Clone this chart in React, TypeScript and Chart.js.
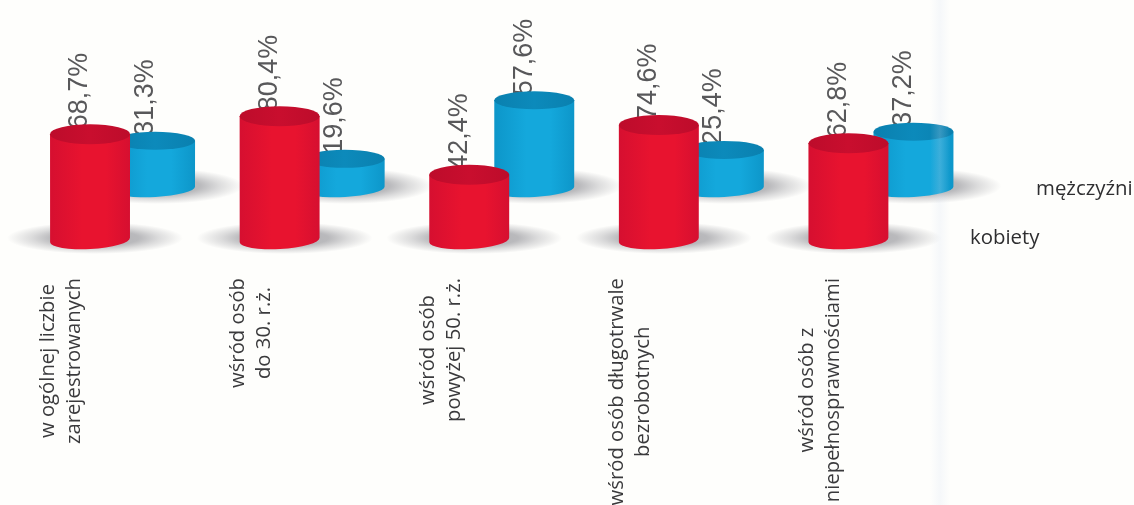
import React, { useEffect, useRef } from "react";
import { Chart, registerables } from "chart.js";

Chart.register(...registerables);

const categories: string[][] = [
  ["w ogólnej liczbie", "zarejestrowanych"],
  ["wśród osób", "do 30. r.ż."],
  ["wśród osób", "powyżej 50. r.ż."],
  ["wśród osób długotrwale", "bezrobotnych"],
  ["wśród osób z", "niepełnosprawnościami"],
];
const kobiety = [68.7, 80.4, 42.4, 74.6, 62.8];
const mezczyzni = [31.3, 19.6, 57.6, 25.4, 37.2];

const PAPER = "#fefefc";
const VALUE_FONT = '27px "Liberation Sans"';
const TEXT_FONT = '20.3px "Open Sans"';
const KEY_FONT = '20.4px "Open Sans"';

type Palette = { edge: string; mid: string; lid: string; lidDark: string };
const RED: Palette = { edge: "#d60f30", mid: "#e8132f", lid: "#c90e2e", lidDark: "#bd0c2b" };
const BLUE: Palette = { edge: "#0d96c9", mid: "#14a8dc", lid: "#0c8abb", lidDark: "#0a80af" };

// Soft floor shadow around the foot of a cylinder.
function drawShadow(ctx: CanvasRenderingContext2D, x: number, y: number, rx: number, ry: number) {
  ctx.save();
  ctx.translate(x, y);
  ctx.scale(1, ry / rx);
  const g = ctx.createRadialGradient(0, 0, 0, 0, 0, rx);
  g.addColorStop(0, "rgba(140,140,146,0.7)");
  g.addColorStop(0.5, "rgba(140,140,146,0.6)");
  g.addColorStop(0.72, "rgba(140,140,146,0.3)");
  g.addColorStop(1, "rgba(140,140,146,0)");
  ctx.fillStyle = g;
  ctx.beginPath();
  ctx.arc(0, 0, rx, 0, Math.PI * 2);
  ctx.fill();
  ctx.restore();
}

// Paints one bar element as an upright cylinder.
function drawCylinder(
  ctx: CanvasRenderingContext2D,
  bar: { x: number; y: number; base: number; width: number },
  ry: number,
  c: Palette
) {
  const rx = bar.width / 2;
  const left = bar.x - rx;
  const right = bar.x + rx;
  const side = ctx.createLinearGradient(left, 0, right, 0);
  side.addColorStop(0, c.edge);
  side.addColorStop(0.4, c.mid);
  side.addColorStop(0.7, c.mid);
  side.addColorStop(1, c.edge);
  ctx.fillStyle = side;
  ctx.beginPath();
  ctx.moveTo(left, bar.y);
  ctx.lineTo(right, bar.y);
  ctx.ellipse(bar.x, bar.base, rx, ry - 1, -0.055, 0, Math.PI);
  ctx.closePath();
  ctx.fill();

  const lid = ctx.createLinearGradient(left, 0, right, 0);
  lid.addColorStop(0, c.lidDark);
  lid.addColorStop(0.5, c.lid);
  lid.addColorStop(1, c.lidDark);
  ctx.fillStyle = lid;
  ctx.beginPath();
  ctx.ellipse(bar.x, bar.y, rx, ry, 0, 0, Math.PI * 2);
  ctx.fill();
}

const cylinderPlugin = {
  id: "cylinders",
  beforeDraw(chart: Chart) {
    const { ctx, width, height } = chart;
    ctx.save();
    ctx.fillStyle = PAPER;
    ctx.fillRect(0, 0, width, height);
    ctx.restore();
  },
  // Replaces the flat bars: shadows first, then value labels, then cylinders on top of them.
  beforeDatasetsDraw(chart: Chart) {
    const { ctx, scales } = chart;
    const red = chart.getDatasetMeta(0).data as any[];
    const blue = chart.getDatasetMeta(1).data as any[];

    blue.forEach((b) => drawShadow(ctx, b.x + 2, b.base - 3, 86, 18));
    red.forEach((b) => drawShadow(ctx, b.x + 5, b.base - 2, 88, 16));

    ctx.save();
    ctx.font = VALUE_FONT;
    ctx.fillStyle = "#58585a";
    ctx.textAlign = "left";
    ctx.textBaseline = "middle";
    const putValues = (bars: any[], values: number[]) =>
      bars.forEach((b, i) => {
        ctx.save();
        ctx.translate(b.x - 10, b.y - 5);
        ctx.rotate(-Math.PI / 2);
        ctx.fillText(values[i].toFixed(1).replace(".", ",") + "%", 0, 0);
        ctx.restore();
      });
    putValues(red, kobiety);
    putValues(blue, mezczyzni);
    ctx.restore();

    blue.forEach((b) => drawCylinder(ctx, b, 9, BLUE));
    red.forEach((b) => drawCylinder(ctx, b, 10, RED));

    // Category names, each line centred on its own, running upwards under the groups.
    ctx.save();
    ctx.font = TEXT_FONT;
    ctx.fillStyle = "#3a3a3c";
    ctx.textAlign = "center";
    ctx.textBaseline = "middle";
    const xScale = scales.x;
    categories.forEach((lines, i) => {
      const px = xScale.getPixelForTick(i) - 61;
      const longest = Math.max(...lines.map((l) => ctx.measureText(l).width));
      lines.forEach((line, n) => {
        ctx.save();
        ctx.translate(px + (n - (lines.length - 1) / 2) * 26, 278 + longest / 2);
        ctx.rotate(-Math.PI / 2);
        ctx.fillText(line, 0, 0);
        ctx.restore();
      });
    });
    ctx.restore();

    // Series names beside the last group.
    ctx.save();
    ctx.font = KEY_FONT;
    ctx.fillStyle = "#2e2e30";
    ctx.textAlign = "left";
    ctx.textBaseline = "alphabetic";
    ctx.fillText(chart.data.datasets[1].label as string, 1036, 195);
    ctx.fillText(chart.data.datasets[0].label as string, 970, 244);
    ctx.restore();

    // Faint page fold crossing the right of the sheet.
    ctx.save();
    const fold = ctx.createLinearGradient(930, 0, 950, 0);
    fold.addColorStop(0, "rgba(215,225,242,0)");
    fold.addColorStop(0.5, "rgba(215,225,242,0.22)");
    fold.addColorStop(1, "rgba(215,225,242,0)");
    ctx.fillStyle = fold;
    ctx.fillRect(930, 0, 20, chart.height);
    ctx.restore();

    return false;
  },
};

export default function App() {
  const ref = useRef<HTMLCanvasElement>(null);

  useEffect(() => {
    const chart = new Chart(ref.current as HTMLCanvasElement, {
      type: "bar",
      data: {
        labels: categories,
        datasets: [
          { label: "kobiety", data: kobiety, backgroundColor: "#e01030", yAxisID: "y" },
          { label: "mężczyźni", data: mezczyzni, backgroundColor: "#14a5db", yAxisID: "y1" },
        ],
      },
      options: {
        animation: false,
        responsive: false,
        categoryPercentage: 0.686,
        barPercentage: 1.23,
        layout: { padding: { left: 27.75, right: 158.25, top: 0, bottom: 0 } },
        plugins: { legend: { display: false }, tooltip: { enabled: false } },
        scales: {
          x: {
            grid: { display: false },
            border: { display: false },
            ticks: { display: false },
            afterFit(scale: any) {
              scale.height = 265;
            },
          },
          // Both value axes share one pixels-per-percent; the rear row stands further up.
          y: { display: false, min: 0, max: 155.84 },
          y1: { display: false, min: -33.12, max: 122.73 },
        },
      } as any,
      plugins: [cylinderPlugin as any],
    });
    return () => chart.destroy();
  }, []);

  return (
    <div style={{ position: "fixed", left: 0, top: 0, width: 1134, height: 505 }}>
      <canvas ref={ref} width={1134} height={505} style={{ display: "block" }} />
    </div>
  );
}
